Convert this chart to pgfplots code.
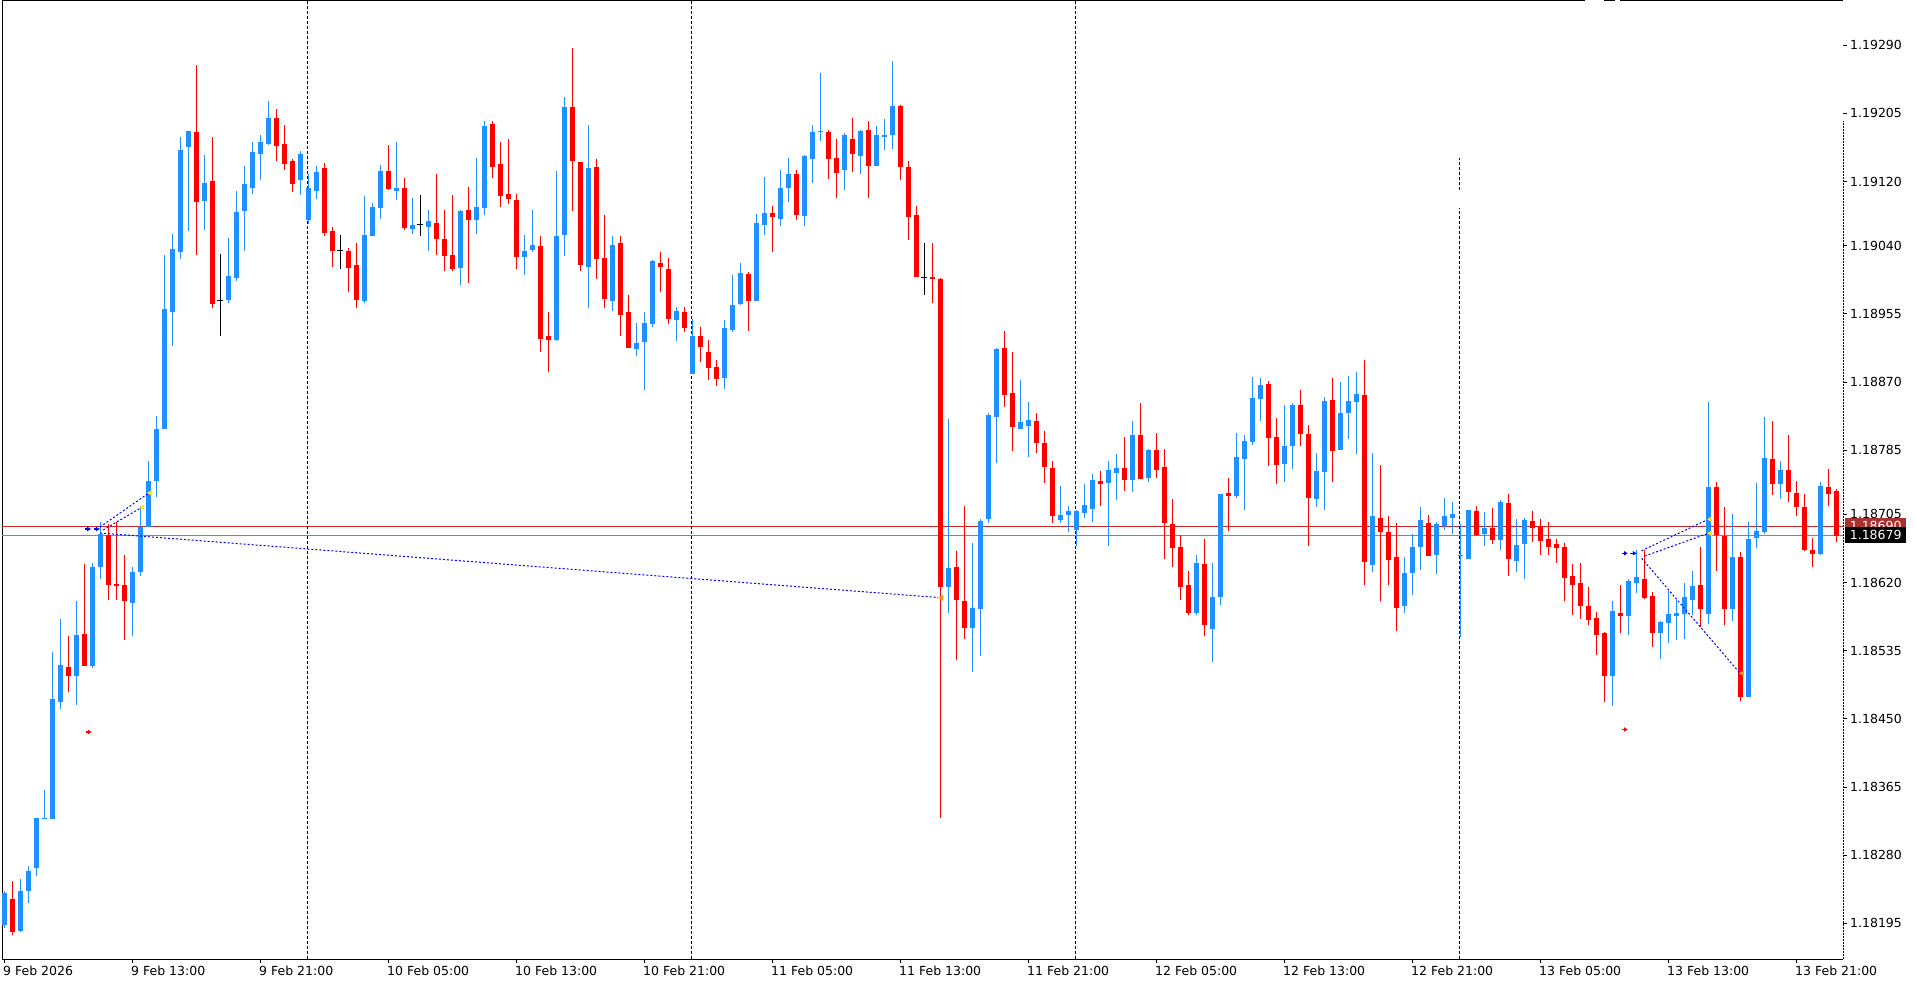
\documentclass[border=0pt]{standalone}
\usepackage{pgfplots}
\pgfplotsset{compat=1.18}
\usepackage{pgfplotstable}
\usepackage{fontspec}
\setmainfont{DejaVu Sans}
\usetikzlibrary{arrows.meta}
\definecolor{cblue}{RGB}{30,144,255}
\definecolor{cred}{RGB}{255,0,0}
\definecolor{askred}{RGB}{200,40,40}
\definecolor{bidgray}{RGB}{119,136,153}
\definecolor{boxred}{RGB}{168,50,50}
\definecolor{tradeblue}{RGB}{0,0,255}
\definecolor{tyellow}{RGB}{255,235,0}
\definecolor{torange}{RGB}{218,165,32}

% i = bar index (30-minute bars), d = candle direction (1 up, -1 down, 0 doji)
\pgfplotstableread{
i O H L C d
0 1.18193 1.18236 1.18189 1.18234 1
1 1.18226 1.18248 1.18180 1.18185 -1
2 1.18185 1.18251 1.18184 1.18235 1
3 1.18236 1.18266 1.18221 1.18261 1
4 1.18264 1.18327 1.18254 1.18327 1
5 1.18326 1.18361 1.18325 1.18328 1
6 1.18327 1.18534 1.18326 1.18476 1
7 1.18471 1.18575 1.18462 1.18517 1
8 1.18516 1.18554 1.18484 1.18504 -1
9 1.18504 1.18597 1.18467 1.18555 1
10 1.18557 1.18643 1.18517 1.18518 -1
11 1.18517 1.18644 1.18514 1.18640 1
12 1.18640 1.18695 1.18625 1.18681 1
13 1.18680 1.18693 1.18598 1.18618 -1
14 1.18619 1.18695 1.18598 1.18617 -1
15 1.18618 1.18654 1.18548 1.18597 -1
16 1.18595 1.18640 1.18553 1.18634 1
17 1.18634 1.18715 1.18628 1.18690 1
18 1.18690 1.18772 1.18689 1.18747 1
19 1.18747 1.18828 1.18727 1.18812 1
20 1.18812 1.19028 1.18811 1.18962 1
21 1.18959 1.19055 1.18915 1.19037 1
22 1.19034 1.19176 1.19024 1.19161 1
23 1.19163 1.19183 1.19058 1.19183 1
24 1.19183 1.19265 1.19029 1.19095 -1
25 1.19097 1.19153 1.19060 1.19119 1
26 1.19122 1.19176 1.18963 1.18968 -1
27 1.18972 1.19030 1.18927 1.18972 0
28 1.18972 1.19050 1.18969 1.19002 1
29 1.19001 1.19108 1.18996 1.19084 1
30 1.19084 1.19140 1.19033 1.19117 1
31 1.19113 1.19169 1.19105 1.19158 1
32 1.19156 1.19178 1.19122 1.19170 1
33 1.19168 1.19220 1.19166 1.19200 1
34 1.19199 1.19210 1.19146 1.19165 -1
35 1.19168 1.19190 1.19135 1.19143 -1
36 1.19146 1.19148 1.19107 1.19117 -1
37 1.19122 1.19158 1.19103 1.19154 1
38 1.19073 1.19129 1.19067 1.19113 1
39 1.19108 1.19139 1.19098 1.19132 1
40 1.19138 1.19143 1.19052 1.19057 -1
41 1.19059 1.19063 1.19013 1.19034 -1
42 1.19034 1.19054 1.19011 1.19034 0
43 1.19035 1.19037 1.18982 1.19014 -1
44 1.19016 1.19043 1.18963 1.18973 -1
45 1.18972 1.19102 1.18968 1.19055 1
46 1.19053 1.19093 1.19052 1.19089 1
47 1.19088 1.19141 1.19073 1.19134 1
48 1.19134 1.19166 1.19110 1.19112 -1
49 1.19109 1.19169 1.19097 1.19113 1
50 1.19113 1.19125 1.19060 1.19063 -1
51 1.19062 1.19099 1.19055 1.19067 1
52 1.19067 1.19103 1.19052 1.19067 0
53 1.19065 1.19084 1.19034 1.19072 1
54 1.19069 1.19130 1.19029 1.19049 -1
55 1.19049 1.19085 1.19008 1.19028 -1
56 1.19030 1.19103 1.19009 1.19013 -1
57 1.19013 1.19085 1.18991 1.19084 1
58 1.19085 1.19113 1.18994 1.19072 -1
59 1.19073 1.19149 1.19055 1.19089 1
60 1.19088 1.19195 1.19078 1.19190 1
61 1.19193 1.19196 1.19124 1.19140 -1
62 1.19143 1.19170 1.19088 1.19102 -1
63 1.19104 1.19173 1.19092 1.19098 -1
64 1.19098 1.19104 1.19011 1.19027 -1
65 1.19028 1.19053 1.19004 1.19035 1
66 1.19035 1.19084 1.19032 1.19042 1
67 1.19040 1.19052 1.18907 1.18924 -1
68 1.18928 1.18958 1.18882 1.18923 -1
69 1.18922 1.19133 1.18921 1.19052 1
70 1.19054 1.19225 1.19027 1.19214 1
71 1.19213 1.19286 1.19083 1.19146 -1
72 1.19144 1.19145 1.19008 1.19016 -1
73 1.19014 1.19191 1.18963 1.19138 1
74 1.19139 1.19148 1.18999 1.19025 -1
75 1.19025 1.19078 1.18963 1.18974 -1
76 1.18973 1.19052 1.18959 1.19042 1
77 1.19044 1.19052 1.18928 1.18954 -1
78 1.18957 1.18979 1.18912 1.18913 -1
79 1.18912 1.18944 1.18902 1.18920 1
80 1.18920 1.18958 1.18860 1.18944 1
81 1.18943 1.19022 1.18939 1.19021 1
82 1.19019 1.19032 1.18982 1.19014 -1
83 1.19012 1.19025 1.18943 1.18949 -1
84 1.18948 1.18964 1.18921 1.18959 1
85 1.18957 1.18964 1.18933 1.18937 -1
86 1.18882 1.18949 1.18881 1.18929 1
87 1.18929 1.18939 1.18895 1.18915 -1
88 1.18908 1.18923 1.18873 1.18888 -1
89 1.18890 1.18898 1.18865 1.18875 -1
90 1.18875 1.18947 1.18861 1.18937 1
91 1.18936 1.19003 1.18933 1.18967 1
92 1.18967 1.19018 1.18966 1.19006 1
93 1.19006 1.19007 1.18934 1.18973 -1
94 1.18973 1.19080 1.18972 1.19070 1
95 1.19067 1.19126 1.19054 1.19082 1
96 1.19082 1.19090 1.19032 1.19077 -1
97 1.19075 1.19135 1.19065 1.19114 1
98 1.19113 1.19149 1.19095 1.19130 1
99 1.19130 1.19135 1.19072 1.19078 -1
100 1.19078 1.19153 1.19065 1.19153 1
101 1.19150 1.19190 1.19118 1.19183 1
102 1.19184 1.19255 1.19171 1.19185 1
103 1.19183 1.19184 1.19123 1.19149 -1
104 1.19150 1.19173 1.19099 1.19132 -1
105 1.19135 1.19180 1.19109 1.19178 1
106 1.19173 1.19199 1.19132 1.19154 -1
107 1.19153 1.19184 1.19130 1.19184 1
108 1.19184 1.19196 1.19100 1.19140 -1
109 1.19141 1.19189 1.19139 1.19179 1
110 1.19178 1.19198 1.19159 1.19179 1
111 1.19179 1.19270 1.19161 1.19215 1
112 1.19215 1.19216 1.19122 1.19139 -1
113 1.19140 1.19146 1.19047 1.19077 -1
114 1.19079 1.19090 1.19001 1.19002 -1
115 1.19001 1.19043 1.18978 1.19001 0
116 1.19002 1.19043 1.18968 1.18999 -1
117 1.18999 1.19000 1.18327 1.18615 -1
118 1.18615 1.18824 1.18582 1.18639 1
119 1.18641 1.18659 1.18523 1.18599 -1
120 1.18599 1.18716 1.18550 1.18565 -1
121 1.18564 1.18669 1.18508 1.18589 1
122 1.18588 1.18699 1.18528 1.18698 1
123 1.18699 1.18831 1.18694 1.18829 1
124 1.18827 1.18912 1.18769 1.18912 1
125 1.18913 1.18934 1.18839 1.18855 -1
126 1.18857 1.18907 1.18784 1.18814 -1
127 1.18812 1.18873 1.18811 1.18821 1
128 1.18816 1.18845 1.18776 1.18824 1
129 1.18822 1.18832 1.18782 1.18795 -1
130 1.18794 1.18809 1.18744 1.18765 -1
131 1.18764 1.18771 1.18694 1.18704 -1
132 1.18699 1.18740 1.18694 1.18705 1
133 1.18705 1.18715 1.18683 1.18710 1
134 1.18686 1.18710 1.18665 1.18710 1
135 1.18708 1.18743 1.18700 1.18718 1
136 1.18713 1.18756 1.18695 1.18749 1
137 1.18747 1.18759 1.18716 1.18744 -1
138 1.18745 1.18772 1.18665 1.18761 1
139 1.18759 1.18780 1.18723 1.18765 1
140 1.18764 1.18802 1.18734 1.18749 -1
141 1.18749 1.18822 1.18733 1.18804 1
142 1.18805 1.18844 1.18750 1.18750 -1
143 1.18751 1.18787 1.18746 1.18786 1
144 1.18786 1.18807 1.18751 1.18761 -1
145 1.18764 1.18787 1.18649 1.18694 -1
146 1.18694 1.18724 1.18639 1.18663 -1
147 1.18665 1.18679 1.18598 1.18615 -1
148 1.18618 1.18634 1.18579 1.18583 -1
149 1.18582 1.18654 1.18580 1.18644 1
150 1.18644 1.18674 1.18553 1.18567 -1
151 1.18564 1.18644 1.18521 1.18603 1
152 1.18602 1.18731 1.18592 1.18731 1
153 1.18733 1.18750 1.18684 1.18729 -1
154 1.18727 1.18807 1.18726 1.18776 1
155 1.18774 1.18804 1.18710 1.18797 1
156 1.18797 1.18876 1.18791 1.18852 1
157 1.18850 1.18875 1.18821 1.18868 1
158 1.18868 1.18871 1.18765 1.18800 -1
159 1.18801 1.18825 1.18743 1.18767 -1
160 1.18769 1.18842 1.18745 1.18791 1
161 1.18791 1.18844 1.18761 1.18842 1
162 1.18842 1.18860 1.18790 1.18806 -1
163 1.18806 1.18817 1.18666 1.18726 -1
164 1.18725 1.18781 1.18714 1.18760 1
165 1.18759 1.18851 1.18710 1.18847 1
166 1.18849 1.18875 1.18745 1.18785 -1
167 1.18786 1.18870 1.18785 1.18832 1
168 1.18831 1.18877 1.18799 1.18846 1
169 1.18846 1.18883 1.18780 1.18856 1
170 1.18855 1.18897 1.18617 1.18647 -1
171 1.18643 1.18781 1.18633 1.18704 1
172 1.18701 1.18767 1.18597 1.18684 -1
173 1.18684 1.18703 1.18617 1.18649 -1
174 1.18653 1.18694 1.18559 1.18590 -1
175 1.18592 1.18652 1.18582 1.18633 1
176 1.18633 1.18681 1.18605 1.18665 1
177 1.18665 1.18714 1.18636 1.18698 1
178 1.18695 1.18704 1.18653 1.18654 -1
179 1.18655 1.18696 1.18631 1.18694 1
180 1.18691 1.18725 1.18685 1.18703 1
181 1.18700 1.18720 1.18681 1.18706 1
182 1.18654 1.18693 1.18552 1.18656 1
183 1.18650 1.18711 1.18649 1.18710 1
184 1.18710 1.18715 1.18678 1.18680 -1
185 1.18681 1.18708 1.18665 1.18688 1
186 1.18688 1.18713 1.18668 1.18673 -1
187 1.18674 1.18723 1.18660 1.18721 1
188 1.18720 1.18731 1.18628 1.18650 -1
189 1.18648 1.18699 1.18633 1.18668 1
190 1.18668 1.18700 1.18624 1.18699 1
191 1.18698 1.18709 1.18671 1.18689 -1
192 1.18691 1.18699 1.18655 1.18673 -1
193 1.18675 1.18696 1.18655 1.18665 -1
194 1.18668 1.18674 1.18645 1.18663 -1
195 1.18664 1.18669 1.18597 1.18626 -1
196 1.18629 1.18643 1.18580 1.18618 -1
197 1.18620 1.18645 1.18575 1.18592 -1
198 1.18592 1.18614 1.18567 1.18574 -1
199 1.18577 1.18583 1.18530 1.18555 -1
200 1.18557 1.18558 1.18471 1.18504 -1
201 1.18504 1.18597 1.18466 1.18584 1
202 1.18583 1.18617 1.18557 1.18579 -1
203 1.18580 1.18625 1.18555 1.18623 1
204 1.18621 1.18661 1.18607 1.18628 1
205 1.18626 1.18661 1.18600 1.18602 -1
206 1.18604 1.18608 1.18540 1.18558 -1
207 1.18558 1.18572 1.18525 1.18572 1
208 1.18569 1.18609 1.18545 1.18580 1
209 1.18580 1.18598 1.18548 1.18584 1
210 1.18582 1.18619 1.18550 1.18603 1
211 1.18599 1.18635 1.18580 1.18617 1
212 1.18618 1.18664 1.18564 1.18587 -1
213 1.18582 1.18845 1.18568 1.18740 1
214 1.18739 1.18745 1.18635 1.18679 -1
215 1.18679 1.18714 1.18567 1.18588 -1
216 1.18589 1.18706 1.18572 1.18654 1
217 1.18654 1.18658 1.18472 1.18479 -1
218 1.18479 1.18695 1.18478 1.18676 1
219 1.18676 1.18744 1.18663 1.18685 1
220 1.18684 1.18827 1.18681 1.18776 1
221 1.18776 1.18821 1.18729 1.18745 -1
222 1.18744 1.18771 1.18724 1.18761 1
223 1.18762 1.18804 1.18720 1.18734 -1
224 1.18733 1.18747 1.18703 1.18715 -1
225 1.18715 1.18730 1.18659 1.18661 -1
226 1.18661 1.18676 1.18640 1.18656 -1
227 1.18656 1.18745 1.18655 1.18741 1
228 1.18740 1.18762 1.18716 1.18731 -1
229 1.18735 1.18737 1.18670 1.18679 -1
}\candles

\pgfplotsset{
  wick/.style={draw=none, mark=none, forget plot,
    error bars/.cd, y dir=plus, y explicit, error mark=none,
    error bar style={line width=1bp, draw=#1, solid}},
  body/.style={draw=none, mark=none, forget plot,
    error bars/.cd, y dir=both, y explicit, error mark=none,
    error bar style={line width=5bp, draw=#1, solid}},
}

\begin{document}
\begin{tikzpicture}
\useasboundingbox (0,0) rectangle (1916bp,-987bp);
\fill[white] (0,0) rectangle (1916bp,-987bp);
\begin{axis}[
  at={(2bp,-1bp)}, anchor=north west,
  scale only axis, width=1841bp, height=958bp,
  xmin=-0.25, xmax=229.875, ymin=1.181506, ymax=1.193452,
  axis line style={draw=none},
  clip mode=individual,
  tick align=outside, major tick length=4bp,
  tick style={black, line width=1bp},
  xtick pos=bottom, ytick pos=right,
  xtick={0,16,32,48,64,80,96,112,128,144,160,176,192,208,224},
  xticklabels={9 Feb 2026,9 Feb 13:00,9 Feb 21:00,10 Feb 05:00,10 Feb 13:00,10 Feb 21:00,11 Feb 05:00,11 Feb 13:00,11 Feb 21:00,12 Feb 05:00,12 Feb 13:00,12 Feb 21:00,13 Feb 05:00,13 Feb 13:00,13 Feb 21:00},
  ytick={1.19290,1.19205,1.19120,1.19040,1.18955,1.18870,1.18785,1.18705,1.18620,1.18535,1.18450,1.18365,1.18280,1.18195},
  yticklabels={1.19290,1.19205,1.19120,1.19040,1.18955,1.18870,1.18785,1.18705,1.18620,1.18535,1.18450,1.18365,1.18280,1.18195},
  yticklabel pos=right,
  ticklabel style={font=\fontsize{12.5bp}{14bp}\selectfont, inner sep=0pt},
  xticklabel style={anchor=north west, xshift=-1bp, yshift=-3bp},
  yticklabel style={anchor=west, xshift=3bp},
]
% frame (top edge is interrupted near the right, as in the screenshot)
\draw[black, line width=1bp] (rel axis cs:0,0) -- (rel axis cs:0,1);
\draw[black, line width=1bp] (rel axis cs:0,0) -- (rel axis cs:1,0);
\draw[black, line width=1bp] (rel axis cs:0,1) -- (rel axis cs:0.8599,1);
\draw[black, line width=1bp] (rel axis cs:0.8702,1) -- (rel axis cs:0.8762,1);
\draw[black, line width=1bp] (rel axis cs:0.8789,1) -- (rel axis cs:1,1);
\draw[black, line width=1bp, dash pattern=on 2bp off 1bp] (rel axis cs:1,0) -- (axis cs:229.875,1.19195);

% ask / bid lines
\addplot[askred, line width=1bp, forget plot] coordinates {(-0.25,1.18690) (229.875,1.18690)};
\addplot[bidgray, line width=1bp, forget plot] coordinates {(-0.25,1.18679) (229.875,1.18679)};

% period separators
\addplot[black, line width=1bp, dash pattern=on 3bp off 2bp, forget plot] coordinates {(37.9,1.181506) (37.9,1.193452)};
\addplot[black, line width=1bp, dash pattern=on 3bp off 2bp, forget plot] coordinates {(85.9,1.181506) (85.9,1.193452)};
\addplot[black, line width=1bp, dash pattern=on 3bp off 2bp, forget plot] coordinates {(133.9,1.181506) (133.9,1.193452)};
\addplot[black, line width=1bp, dash pattern=on 3bp off 2bp, forget plot] coordinates {(181.9,1.181506) (181.9,1.19087)};
\addplot[black, line width=1bp, dash pattern=on 3bp off 2bp, forget plot] coordinates {(181.9,1.19109) (181.9,1.19149)};

% wicks
\addplot[wick=cblue] table[x=i, y expr={\thisrow{d}>0 ? \thisrow{L} : nan}, y error expr={\thisrow{H}-\thisrow{L}}] {\candles};
\addplot[wick=cred] table[x=i, y expr={\thisrow{d}<0 ? \thisrow{L} : nan}, y error expr={\thisrow{H}-\thisrow{L}}] {\candles};
\addplot[wick=black] table[x=i, y expr={\thisrow{d}==0 ? \thisrow{L} : nan}, y error expr={\thisrow{H}-\thisrow{L}}] {\candles};
% bodies
\addplot[body=cblue] table[x=i, y expr={\thisrow{d}>0 ? (\thisrow{O}+\thisrow{C})/2 : nan}, y error expr={max(abs(\thisrow{C}-\thisrow{O})/2,0.000007)}] {\candles};
\addplot[body=cred] table[x=i, y expr={\thisrow{d}<0 ? (\thisrow{O}+\thisrow{C})/2 : nan}, y error expr={max(abs(\thisrow{C}-\thisrow{O})/2,0.000007)}] {\candles};
\addplot[only marks, mark=-, mark size=3bp, mark options={line width=1bp, black}, forget plot] table[x=i, y expr={\thisrow{d}==0 ? \thisrow{O} : nan}] {\candles};

% trade history markers
\addplot[tradeblue, line width=1bp, dash pattern=on 2bp off 2bp, forget plot] coordinates {(12.0,1.186893) (18.1,1.187317)};
\addplot[tradeblue, line width=1bp, dash pattern=on 2bp off 2bp, forget plot] coordinates {(12.4,1.186856) (17.2,1.187137)};
\addplot[tradeblue, line width=1bp, dash pattern=on 2bp off 2bp, forget plot] coordinates {(12.0,1.186818) (116.75,1.186014)};
\addplot[tradeblue, line width=1bp, dash pattern=on 2bp off 2bp, forget plot] coordinates {(204.7,1.186597) (213.04,1.186989)};
\addplot[tradeblue, line width=1bp, dash pattern=on 2bp off 2bp, forget plot] coordinates {(205.1,1.186531) (213.04,1.186814)};
\addplot[tradeblue, line width=1bp, dash pattern=on 2bp off 2bp, forget plot] coordinates {(204.7,1.186503) (217.0,1.185069)};
\addplot[only marks, mark=triangle*, mark size=3bp, mark options={rotate=90, fill=tyellow, draw=tyellow}, forget plot] coordinates {(18.3,1.187317) (17.3,1.187137) (213.3,1.186989) (213.3,1.186814)};
\addplot[only marks, mark=triangle*, mark size=3bp, mark options={rotate=90, fill=torange, draw=torange}, forget plot] coordinates {(117.2,1.186008) (217.3,1.185069)};
\addplot[tradeblue, line width=1.5bp, quiver={u=0.8, v=0}, -{Latex[length=4bp,width=5bp]}, forget plot] coordinates {(10.1,1.186868) (11.2,1.186868) (202.2,1.186565) (203.3,1.186565)};
\addplot[cred, line width=1.5bp, quiver={u=0.8, v=0}, -{Latex[length=4bp,width=5bp]}, forget plot] coordinates {(10.2,1.184337) (202.2,1.184368)};

\coordinate (ask) at (axis cs:229.875,1.18690);
\coordinate (bid) at (axis cs:229.875,1.18679);
\end{axis}
\node[fill=boxred, text=white, anchor=west, inner sep=0pt, minimum height=16bp, minimum width=61bp, font=\fontsize{12.5bp}{14bp}\selectfont] at ([xshift=2bp]ask) {1.18690};
\node[fill=black, text=white, anchor=west, inner sep=0pt, minimum height=16bp, minimum width=61bp, font=\fontsize{12.5bp}{14bp}\selectfont] at ([xshift=2bp]bid) {1.18679};
\end{tikzpicture}
\end{document}
